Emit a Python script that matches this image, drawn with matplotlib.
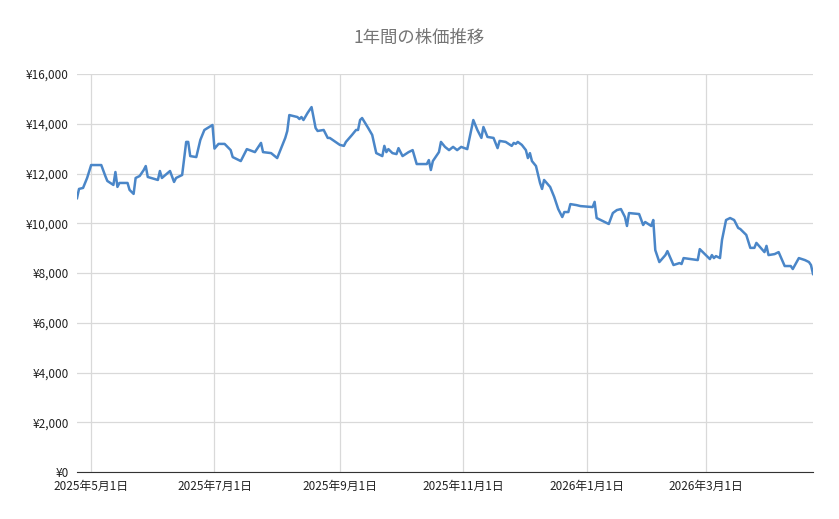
import numpy as np
import pandas as pd
import matplotlib
matplotlib.use("Agg")
import matplotlib.pyplot as plt
import matplotlib.dates as mdates
from matplotlib.ticker import FuncFormatter

plt.rcParams['font.family'] = ['Noto Sans CJK JP', 'DejaVu Sans']

# Data: days since 2025-04-24 and closing price (yen)
start_date = pd.Timestamp("2025-04-24")
day_offset = [0, 1, 3, 5, 7, 12, 14, 15, 18, 19, 20, 21, 25, 26, 28, 29, 31, 33, 34, 35,
              40, 41, 42, 46, 48, 49, 52, 54, 55, 56, 59, 61, 63, 67, 68, 70, 73, 76, 77, 81,
              84, 88, 91, 92, 96, 99, 101, 103, 104, 105, 109, 110, 111, 112, 114, 116, 118, 119, 122, 124,
              125, 130, 132, 133, 136, 138, 139, 140, 141, 144, 146, 148, 151, 152, 153, 154, 156, 158, 159, 161,
              164, 166, 168, 173, 174, 175, 176, 179, 180, 182, 184, 186, 188, 190, 193, 196, 198, 200, 201, 203,
              206, 208, 209, 212, 215, 216, 217, 218, 220, 222, 223, 224, 225, 227, 229, 230, 231, 234, 236, 238,
              240, 241, 243, 244, 247, 249, 255, 256, 257, 260, 263, 265, 267, 269, 271, 272, 273, 278, 280, 281,
              284, 285, 286, 288, 291, 292, 295, 298, 299, 300, 307, 308, 311, 313, 314, 315, 316, 318, 319, 321,
              323, 325, 327, 328, 331, 333, 335, 336, 340, 341, 342, 345, 347, 350, 353, 354, 357, 360, 362, 363,
              364]
price = [11010, 11380, 11420, 11820, 12340, 12340, 11900, 11700, 11540, 12060, 11460, 11620, 11620, 11340, 11180, 11820, 11900, 12140, 12300, 11860,
         11740, 12100, 11820, 12100, 11660, 11820, 11940, 13270, 13270, 12700, 12660, 13350, 13750, 13950, 13000, 13190, 13190, 12940, 12660, 12500,
         12980, 12860, 13230, 12860, 12820, 12620, 13020, 13430, 13710, 14350, 14270, 14190, 14270, 14150, 14430, 14670, 13830, 13710, 13750, 13430,
         13430, 13150, 13110, 13270, 13550, 13750, 13750, 14150, 14230, 13830, 13550, 12820, 12700, 13110, 12860, 12980, 12820, 12780, 13020, 12700,
         12860, 12940, 12380, 12380, 12540, 12140, 12500, 12860, 13270, 13070, 12940, 13070, 12940, 13070, 12980, 14150, 13750, 13430, 13870, 13470,
         13430, 13020, 13310, 13270, 13110, 13230, 13190, 13270, 13150, 12940, 12620, 12820, 12500, 12300, 11620, 11380, 11740, 11460, 11060, 10570,
         10250, 10450, 10450, 10770, 10730, 10690, 10650, 10860, 10210, 10090, 9970, 10410, 10530, 10570, 10250, 9890, 10410, 10370, 9930, 10050,
         9890, 10130, 8920, 8440, 8720, 8880, 8320, 8400, 8360, 8600, 8520, 8960, 8720, 8560, 8720, 8600, 8680, 8600, 9330, 10130,
         10210, 10130, 9810, 9770, 9530, 9010, 9010, 9210, 8840, 9090, 8720, 8760, 8840, 8280, 8280, 8160, 8600, 8520, 8440, 8320,
         7960]
tick_dates = ["2025-05-01", "2025-07-01", "2025-09-01", "2025-11-01", "2026-01-01", "2026-03-01"]
tick_labels = ["2025年5月1日", "2025年7月1日", "2025年9月1日", "2025年11月1日", "2026年1月1日", "2026年3月1日"]

dates = start_date + pd.to_timedelta(day_offset, unit="D")

fig = plt.figure(figsize=(8.39, 5.19), dpi=100)
ax = fig.add_axes([77 / 839, 47 / 519, 736 / 839, 398 / 519])

ax.plot(dates, price, color="#4a86c8", linewidth=1.8, zorder=3)

ax.set_xlim(start_date, start_date + pd.Timedelta(days=364))
ax.set_ylim(0, 16000)
ax.set_yticks(np.arange(0, 16001, 2000))
ax.yaxis.set_major_formatter(FuncFormatter(lambda v, p: f"¥{int(v):,}"))
ax.set_xticks(pd.to_datetime(tick_dates))
ax.set_xticklabels(tick_labels)

ax.grid(True, color="#d9d9d9", linewidth=0.9)
for s in ["top", "right", "left"]:
    ax.spines[s].set_visible(False)
ax.spines["bottom"].set_color("#333333")
ax.tick_params(axis="both", length=0, labelsize=8.5, colors="#222222")
ax.tick_params(axis="x", pad=6)
ax.tick_params(axis="y", pad=6)

fig.suptitle("1年間の株価推移", y=0.945, fontsize=12.5, color="#757575")

fig.savefig("out.png", dpi=100)
